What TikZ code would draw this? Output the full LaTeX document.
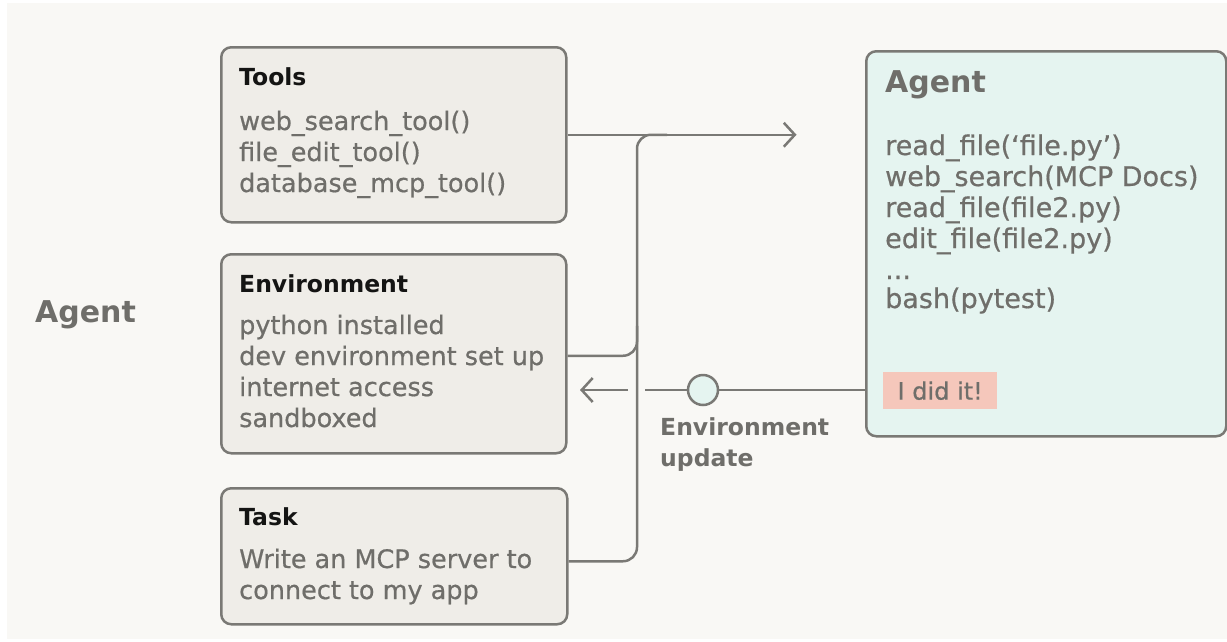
\documentclass[tikz,border=0pt]{standalone}
\usepackage{fontspec}
\setmainfont{DejaVu Sans}
\newfontfamily\mediumfont[FakeBold=0.6]{DejaVu Sans}
\usetikzlibrary{arrows.meta}

\definecolor{paper}{HTML}{F9F8F5}
\definecolor{boxfill}{HTML}{EFEDE8}
\definecolor{mint}{HTML}{E5F4F0}
\definecolor{edge}{HTML}{7A7975}
\definecolor{ink}{HTML}{141413}
\definecolor{muted}{HTML}{6F6E6A}
\definecolor{blush}{HTML}{F5C7BB}

\begin{document}
\begin{tikzpicture}[x=1pt,y=-1pt,
  panel/.style={draw=edge, line width=2.5pt, rounded corners=10pt, fill=boxfill, anchor=north west, inner sep=0pt},
  agentpanel/.style={panel, fill=mint},
  conn/.style={draw=edge, line width=2.5pt},
  tip/.style={-{Straight Barb[length=11pt,width=24pt]}},
  head/.style={anchor=base west, inner sep=0pt, text=ink, font=\fontsize{23.5}{28}\selectfont\bfseries},
  body/.style={anchor=base west, inner sep=0pt, text=muted, font=\mediumfont\fontsize{25.5}{30}\selectfont},
  agentbody/.style={body, font=\mediumfont\fontsize{27}{30}\selectfont},
  title/.style={anchor=base west, inner sep=0pt, text=muted, font=\fontsize{30}{38}\selectfont\bfseries},
  caption/.style={anchor=base west, inner sep=0pt, text=muted, font=\fontsize{23.5}{28}\selectfont\bfseries},
  dot/.style={circle, draw=edge, line width=2.5pt, fill=mint, minimum size=30pt, inner sep=0pt},
  badge/.style={fill=blush, anchor=north west, minimum width=114pt, minimum height=37pt, inner sep=0pt, text=muted, font=\mediumfont\fontsize{24}{30}\selectfont}
]
% page and backdrop
\useasboundingbox (0,0) rectangle (1227,641);
\fill[white] (0,0) rectangle (1227,641);
\fill[paper] (7,3) rectangle (1227,639);

% side label
\node[title] (sidelabel) at (35,322) {Agent};

% left column of panels
\node[panel, minimum width=345pt, minimum height=175pt] (tools) at (220,46) {};
\node[head] (toolsH) at (239,85) {Tools};
\node[body] (t1) at (239,130) {web\_search\_tool()};
\node[body] (t2) at (239,161) {file\_edit\_tool()};
\node[body] (t3) at (239,192) {database\_mcp\_tool()};

\node[panel, minimum width=345pt, minimum height=199pt] (env) at (220,253) {};
\node[head] (envH) at (239,292) {Environment};
\node[body] (e1) at (239,334) {python installed};
\node[body] (e2) at (239,365) {dev environment set up};
\node[body] (e3) at (239,396) {internet access};
\node[body] (e4) at (239,427) {sandboxed};

\node[panel, minimum width=346pt, minimum height=136pt] (task) at (220,487) {};
\node[head] (taskH) at (239,525) {Task};
\node[body] (k1) at (239,568) {Write an MCP server to};
\node[body] (k2) at (239,599) {connect to my app};

% agent transcript panel
\node[agentpanel, minimum width=360pt, minimum height=385pt] (agent) at (865,50) {};
\node[title] (agentH) at (885,92) {Agent};
\node[agentbody] (a1) at (885,155) {read\_file(‘file.py’)};
\node[agentbody] (a2) at (885,186) {web\_search(MCP Docs)};
\node[agentbody] (a3) at (885,217) {read\_file(file2.py)};
\node[agentbody] (a4) at (885,248) {edit\_file(file2.py)};
\node[agentbody] (a5) at (885,279) {...};
\node[agentbody] (a6) at (885,308) {bash(pytest)};
\node[badge] (done) at (883,372) {I did it!};

% context bus feeding the agent
\coordinate (busX) at (637,0);
\coordinate (busTop) at (tools.east -| busX);
\coordinate (busJoin) at ([xshift=30pt]busTop);
\coordinate (arrowEnd) at ([xshift=229pt]tools.east);
\coordinate (taskOut) at ([yshift=-5pt]task.east);
\coordinate (busBottom) at (taskOut -| busX);
\coordinate (envOut) at ([yshift=-2pt]env.east);
\coordinate (envJoin) at (envOut -| busX);

\draw[conn, tip] (tools.east) -- (arrowEnd);
\draw[conn, rounded corners=14pt] (taskOut) -- (busBottom) -- (busTop) -- (busJoin);
\draw[conn, rounded corners=14pt] (envOut) -- (envJoin) -- ([yshift=30pt]envJoin);

% environment update flowing back
\node[dot] (update) at (703,390) {};
\coordinate (agentIn) at (agent.west |- update);
\coordinate (gapR) at (645,390);
\coordinate (gapL) at (628,390);
\coordinate (retTip) at (580,390);
\draw[conn] (agentIn) -- (update);
\draw[conn] (update) -- (gapR);
\draw[conn, tip] (gapL) -- (retTip);

\node[caption] (updL1) at (660,435) {Environment};
\node[caption] (updL2) at (660,466) {update};
\end{tikzpicture}
\end{document}
